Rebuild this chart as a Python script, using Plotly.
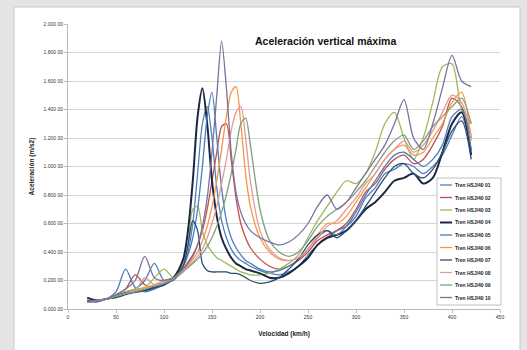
import plotly.graph_objects as go

speed = [20, 30, 40, 50, 60, 70, 80, 90, 100, 110, 120, 125, 130, 135, 140, 145, 150, 155,
         160, 165, 170, 175, 180, 185, 190, 200, 210, 220, 230, 240, 250, 260, 270, 280,
         290, 300, 310, 320, 330, 340, 350, 360, 370, 380, 390, 400, 410, 420]

names = ["Tren HSJ/40 01", "Tren HSJ/40 02", "Tren HSJ/40 03", "Tren HSJ/40 04", "Tren HSJ/40 05",
         "Tren HSJ/40 06", "Tren HSJ/40 07", "Tren HSJ/40 08", "Tren HSJ/40 09", "Tren HSJ/40 10"]

s01 = [0.06, 0.05, 0.07, 0.09, 0.12, 0.14, 0.20, 0.32, 0.20, 0.20, 0.30, 0.40, 0.60, 0.95, 1.30, 1.42,
       1.20, 0.85, 0.62, 0.50, 0.42, 0.37, 0.34, 0.32, 0.30, 0.27, 0.25, 0.24, 0.26, 0.30, 0.38, 0.45,
       0.50, 0.55, 0.58, 0.65, 0.78, 0.85, 0.95, 0.98, 1.02, 1.00, 0.95, 1.00, 1.08, 1.22, 1.35, 1.12]
s02 = [0.05, 0.06, 0.07, 0.10, 0.14, 0.24, 0.17, 0.15, 0.17, 0.21, 0.28, 0.33, 0.38, 0.45, 0.55, 0.70,
       0.90, 1.10, 1.28, 1.30, 1.05, 0.78, 0.60, 0.50, 0.43, 0.35, 0.30, 0.28, 0.30, 0.34, 0.40, 0.48,
       0.52, 0.55, 0.60, 0.70, 0.82, 0.88, 0.98, 1.05, 1.08, 1.02, 1.05, 1.15, 1.28, 1.48, 1.42, 1.20]
s03 = [0.05, 0.06, 0.07, 0.09, 0.12, 0.14, 0.15, 0.22, 0.28, 0.22, 0.32, 0.45, 0.70, 0.72, 0.55, 0.45,
       0.40, 0.36, 0.34, 0.32, 0.30, 0.28, 0.26, 0.25, 0.24, 0.24, 0.25, 0.28, 0.32, 0.38, 0.50, 0.62,
       0.72, 0.82, 0.90, 0.88, 0.95, 1.10, 1.30, 1.38, 1.20, 1.05, 1.20, 1.45, 1.70, 1.72, 1.40, 1.30]
s04 = [0.08, 0.06, 0.07, 0.09, 0.11, 0.12, 0.13, 0.15, 0.17, 0.22, 0.35, 0.55, 0.90, 1.35, 1.55, 1.30,
       0.90, 0.65, 0.50, 0.42, 0.36, 0.32, 0.30, 0.28, 0.27, 0.25, 0.22, 0.22, 0.25, 0.30, 0.36, 0.45,
       0.50, 0.52, 0.55, 0.62, 0.70, 0.75, 0.82, 0.90, 0.92, 0.95, 0.88, 0.92, 1.10, 1.30, 1.38, 1.08]
s05 = [0.05, 0.05, 0.07, 0.12, 0.28, 0.15, 0.12, 0.14, 0.17, 0.21, 0.30, 0.38, 0.50, 0.70, 1.00, 1.35,
       1.52, 1.20, 0.85, 0.62, 0.50, 0.43, 0.38, 0.34, 0.32, 0.28, 0.26, 0.27, 0.30, 0.35, 0.42, 0.50,
       0.55, 0.52, 0.58, 0.68, 0.80, 0.90, 1.00, 1.08, 1.10, 1.05, 1.00, 1.05, 1.15, 1.35, 1.40, 1.12]
s06 = [0.05, 0.06, 0.07, 0.09, 0.11, 0.13, 0.15, 0.17, 0.20, 0.22, 0.28, 0.31, 0.35, 0.40, 0.48, 0.58,
       0.72, 0.90, 1.12, 1.35, 1.52, 1.56, 1.30, 0.95, 0.72, 0.50, 0.40, 0.35, 0.34, 0.36, 0.42, 0.52,
       0.60, 0.60, 0.65, 0.75, 0.85, 0.95, 1.05, 1.12, 1.15, 1.08, 1.10, 1.20, 1.30, 1.45, 1.52, 1.18]
s07 = [0.06, 0.06, 0.07, 0.08, 0.10, 0.12, 0.13, 0.15, 0.17, 0.21, 0.30, 0.45, 0.62, 0.55, 0.32, 0.27,
       0.26, 0.26, 0.26, 0.26, 0.25, 0.25, 0.24, 0.22, 0.20, 0.18, 0.19, 0.22, 0.28, 0.35, 0.45, 0.52,
       0.55, 0.50, 0.55, 0.62, 0.72, 0.82, 0.92, 1.00, 1.02, 0.95, 0.92, 0.98, 1.10, 1.25, 1.32, 1.05]
s08 = [0.05, 0.06, 0.07, 0.09, 0.11, 0.13, 0.22, 0.17, 0.19, 0.22, 0.27, 0.30, 0.33, 0.37, 0.42, 0.50,
       0.60, 0.72, 0.88, 1.05, 1.25, 1.38, 1.42, 1.20, 0.90, 0.55, 0.42, 0.36, 0.34, 0.36, 0.42, 0.50,
       0.58, 0.62, 0.70, 0.78, 0.88, 0.95, 1.05, 1.12, 1.18, 1.10, 1.15, 1.25, 1.38, 1.50, 1.45, 1.22]
s09 = [0.05, 0.06, 0.07, 0.09, 0.11, 0.12, 0.14, 0.16, 0.18, 0.21, 0.26, 0.29, 0.32, 0.35, 0.39, 0.44,
       0.50, 0.58, 0.68, 0.80, 0.95, 1.12, 1.30, 1.34, 1.15, 0.70, 0.48, 0.40, 0.37, 0.40, 0.48, 0.58,
       0.65, 0.70, 0.75, 0.82, 0.90, 1.00, 1.10, 1.18, 1.22, 1.12, 1.18, 1.28, 1.35, 1.42, 1.48, 1.30]
s10 = [0.05, 0.06, 0.07, 0.10, 0.14, 0.20, 0.37, 0.22, 0.20, 0.22, 0.28, 0.32, 0.37, 0.45, 0.58, 0.78,
       1.10, 1.50, 1.88, 1.55, 1.10, 0.82, 0.68, 0.60, 0.55, 0.50, 0.47, 0.45, 0.47, 0.52, 0.60, 0.72,
       0.80, 0.70, 0.75, 0.85, 0.95, 1.05, 1.15, 1.30, 1.47, 1.20, 1.12, 1.30, 1.55, 1.78, 1.60, 1.56]

series = [s01, s02, s03, s04, s05, s06, s07, s08, s09, s10]
colors = ["#4F81BD", "#C0504D", "#9BBB59", "#1C2640", "#4A7EBB",
          "#F79646", "#2C4D75", "#E39A9A", "#7FA07A", "#7E6F9E"]
widths = [1.3, 1.3, 1.3, 2.0, 1.3, 1.3, 1.3, 1.3, 1.3, 1.3]

y_ticks = [0.0, 0.2, 0.4, 0.6, 0.8, 1.0, 1.2, 1.4, 1.6, 1.8, 2.0]
y_ticktext = ["0.000 00", "0.200 00", "0.400 00", "0.600 00", "0.800 00", "1.000 00",
              "1.200 00", "1.400 00", "1.600 00", "1.800 00", "2.000 00"]
x_ticks = [0, 50, 100, 150, 200, 250, 300, 350, 400, 450]

# layout geometry (pixels)
W, H = 527, 350
ML, MR, MT, MB = 68, 27, 24, 41
PW, PH = W - ML - MR, H - MT - MB


def px_x(px):
    return (px - ML) / PW


def px_y(py):
    return (H - MB - py) / PH


fig = go.Figure()
for name, ys, c, w in zip(names, series, colors, widths):
    fig.add_trace(go.Scatter(x=speed, y=ys, name=name, mode="lines",
                             line=dict(color=c, width=w, shape="spline", smoothing=0.8)))

font = "Liberation Sans, Arial, sans-serif"

shapes = [dict(type="rect", xref="paper", yref="paper", x0=px_x(14), x1=px_x(520),
               y0=px_y(360), y1=px_y(7), fillcolor="white",
               line=dict(color="#c8c8c8", width=1), layer="below")]
annotations = [dict(text="<b>Aceleración vertical máxima</b>", xref="paper", yref="paper",
                    x=px_x(325), y=px_y(41), xanchor="center", yanchor="middle", showarrow=False,
                    font=dict(size=10.5, color="#111", family=font))]

# legend box drawn in paper coordinates
leg_x0, leg_x1, leg_y0, leg_y1 = 437, 501, 178, 305
shapes.append(dict(type="rect", xref="paper", yref="paper", x0=px_x(leg_x0), x1=px_x(leg_x1),
                   y0=px_y(leg_y1), y1=px_y(leg_y0), fillcolor="white",
                   line=dict(color="#c0c0c0", width=1), layer="above"))
for i, (name, c, w) in enumerate(zip(names, colors, widths)):
    py = 185 + i * 12.5
    shapes.append(dict(type="line", xref="paper", yref="paper", x0=px_x(440), x1=px_x(452),
                       y0=px_y(py), y1=px_y(py), line=dict(color=c, width=w), layer="above"))
    annotations.append(dict(text="<b>" + name + "</b>", xref="paper", yref="paper",
                            x=px_x(453), y=px_y(py), xanchor="left", yanchor="middle",
                            showarrow=False, font=dict(size=5, color="#222", family=font)))

fig.update_layout(
    width=W, height=H,
    margin=dict(l=ML, r=MR, t=MT, b=MB),
    paper_bgcolor="#e4e4e4",
    plot_bgcolor="white",
    font=dict(family=font, size=5, color="#333"),
    showlegend=False,
    xaxis=dict(range=[0, 450], tickvals=x_ticks, showgrid=False, zeroline=False,
               showline=True, linecolor="#bbbbbb", ticks="outside", ticklen=3,
               tickcolor="#bbbbbb", tickfont=dict(size=5, color="#333"),
               title=dict(text="<b>Velocidad (km/h)</b>", font=dict(size=6.5, color="#222"), standoff=12)),
    yaxis=dict(range=[0, 2.0], tickvals=y_ticks, ticktext=y_ticktext, showgrid=True,
               gridcolor="#d4d4d4", gridwidth=1, zeroline=False, showline=True,
               linecolor="#bbbbbb", ticks="outside", ticklen=3, tickcolor="#bbbbbb",
               tickfont=dict(size=5, color="#333"),
               title=dict(text="<b>Aceleración (m/s2)</b>", font=dict(size=6.5, color="#222"), standoff=8)),
    shapes=shapes,
    annotations=annotations,
)

fig.write_html("out.html")
